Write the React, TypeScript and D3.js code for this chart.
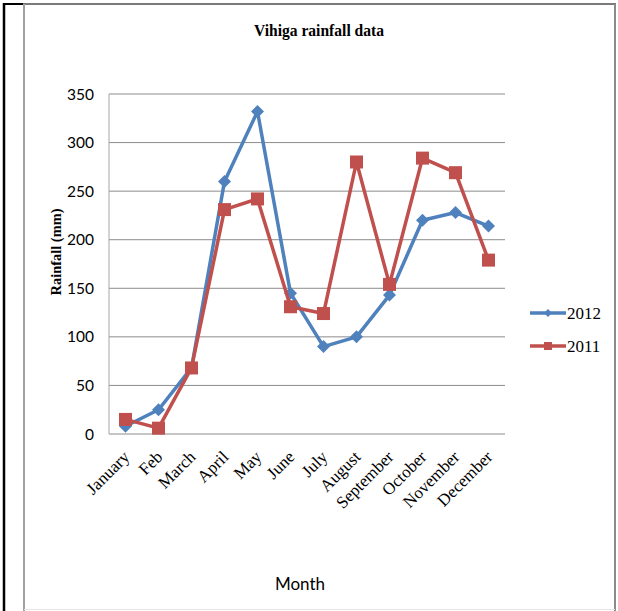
import * as d3 from "d3";

const months = [
	"January",
	"Feb",
	"March",
	"April",
	"May",
	"June",
	"July",
	"August",
	"September",
	"October",
	"November",
	"December",
];
const rain2012 = [8, 25, 68, 260, 332, 145, 90, 100, 143, 220, 228, 214];
const rain2011 = [15, 6, 68, 231, 242, 131, 124, 280, 154, 284, 269, 179];
const yTickValues = [0, 50, 100, 150, 200, 250, 300, 350];

const BLUE = "#4F81BD";
const RED = "#C0504D";

export default function App() {
	const width = 618;
	const height = 611;
	const plot = { left: 109, right: 505, top: 94, bottom: 434 };

	const x = d3
		.scalePoint<string>()
		.domain(months)
		.range([plot.left, plot.right])
		.padding(0.5);
	const y = d3.scaleLinear().domain([0, 350]).range([plot.bottom, plot.top]);

	const line = d3
		.line<number>()
		.x((_, i) => x(months[i]) as number)
		.y((d) => y(d));

	const diamond = (cx: number, cy: number, r = 6.5) =>
		`M${cx},${cy - r}L${cx + r},${cy}L${cx},${cy + r}L${cx - r},${cy}Z`;

	const series = [
		{ name: "2012", values: rain2012, color: BLUE, shape: "diamond" },
		{ name: "2011", values: rain2011, color: RED, shape: "square" },
	];

	const marker = (shape: string, cx: number, cy: number, color: string, k: number) =>
		shape === "diamond" ? (
			<path key={k} d={diamond(cx, cy)} fill={color} />
		) : (
			<rect key={k} x={cx - 6.5} y={cy - 6.5} width={13} height={13} fill={color} />
		);

	return (
		<svg
			width={width}
			height={height}
			style={{ position: "absolute", left: 0, top: 0, background: "#fff" }}
		>
			{/* outer frame */}
			<line x1={4} x2={4} y1={3} y2={611} stroke="#000" strokeWidth={2.5} />
			<line x1={3} x2={23} y1={4} y2={4} stroke="#000" strokeWidth={2} />
			<line x1={23} x2={616} y1={4} y2={4} stroke="#7a7a7a" strokeWidth={2} />
			<line x1={24} x2={24} y1={4} y2={611} stroke="#a0a0a0" strokeWidth={2} />
			<line x1={615} x2={615} y1={4} y2={611} stroke="#8a8a8a" strokeWidth={2} />
			<line x1={24} x2={615} y1={609.5} y2={609.5} stroke="#e4e4e4" strokeWidth={1} />

			{/* title */}
			<text
				x={319}
				y={36}
				textAnchor="middle"
				fontFamily="'Liberation Serif', serif"
				fontWeight="bold"
				fontSize={16}
				textLength={130}
				lengthAdjust="spacingAndGlyphs"
			>
				Vihiga rainfall data
			</text>

			{/* grid */}
			{yTickValues.map((t) => (
				<line
					key={t}
					x1={plot.left}
					x2={plot.right}
					y1={y(t)}
					y2={y(t)}
					stroke="#8c8c8c"
					strokeWidth={1}
				/>
			))}
			<line
				x1={plot.left}
				x2={plot.left}
				y1={plot.top}
				y2={plot.bottom}
				stroke="#a6a6a6"
				strokeWidth={1}
			/>

			{/* y tick labels */}
			{yTickValues.map((t) => (
				<text
					key={t}
					x={94}
					y={y(t) + 5.5}
					textAnchor="end"
					fontFamily="Lato, sans-serif"
					fontSize={15.5}
					fill="#000"
				>
					{t}
				</text>
			))}

			{/* y axis title */}
			<text
				transform="translate(61,252) rotate(-90)"
				textAnchor="middle"
				fontFamily="'Liberation Serif', serif"
				fontWeight="bold"
				fontSize={15}
				textLength={87}
				lengthAdjust="spacingAndGlyphs"
			>
				Rainfall (mm)
			</text>

			{/* x labels */}
			{months.map((m) => (
				<text
					key={m}
					transform={`translate(${(x(m) as number) + 5},${458}) rotate(-45)`}
					textAnchor="end"
					fontFamily="'Liberation Serif', serif"
					fontSize={17}
				>
					{m}
				</text>
			))}

			<text
				x={300}
				y={590}
				textAnchor="middle"
				fontFamily="Lato, sans-serif"
				fontSize={17}
			>
				Month
			</text>

			{/* series */}
			{series.map((s) => (
				<g key={s.name}>
					<path
						d={line(s.values) ?? ""}
						fill="none"
						stroke={s.color}
						strokeWidth={3.5}
						strokeLinejoin="round"
					/>
					{s.values.map((v, i) => marker(s.shape, x(months[i]) as number, y(v), s.color, i))}
				</g>
			))}

			{/* legend */}
			{series.map((s, i) => {
				const ly = 313 + i * 33;
				return (
					<g key={s.name}>
						<line x1={530} x2={566} y1={ly} y2={ly} stroke={s.color} strokeWidth={3.5} />
						{s.shape === "diamond" ? (
							<path d={diamond(548, ly, 4)} fill={s.color} />
						) : (
							<rect x={544} y={ly - 4} width={8} height={8} fill={s.color} />
						)}
						<text
							x={567}
							y={ly + 6}
							fontFamily="'Liberation Serif', serif"
							fontSize={17}
						>
							{s.name}
						</text>
					</g>
				);
			})}
		</svg>
	);
}
